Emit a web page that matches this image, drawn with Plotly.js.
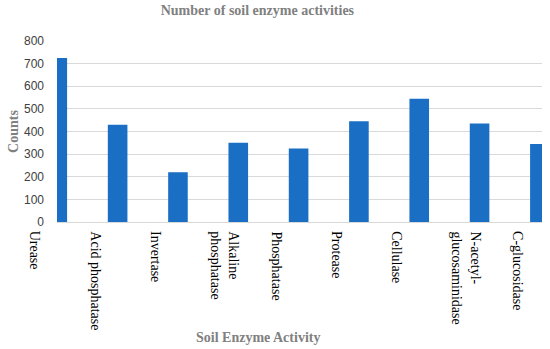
<!DOCTYPE html>
<html>
<head>
<meta charset="utf-8">
<script src="https://cdn.plot.ly/plotly-3.0.1.min.js"></script>
<style>html,body{margin:0;padding:0;background:#fff;}#chart{width:550px;height:349px;}</style>
</head>
<body>
<div id="chart"></div>
<script>
var categories = ["Urease", "Acid phosphatase", "Invertase", "Alkaline<br>phosphatase", "Phosphatase", "Protease", "Cellulase", "N-acetyl-<br>glucosaminidase", "C-glucosidase"];
var counts = [725, 430, 220, 350, 325, 445, 545, 435, 345];
var yTicks = [0, 100, 200, 300, 400, 500, 600, 700, 800];

var idx = categories.map(function (c, i) { return i; });
var xRange = [-0.005, 8.035];
// helper axis spanning the full label strip (starts 37px left of the plot area)
var marginL = 20, plotL = 57, plotR = 542;
var unitPx = (plotR - plotL) / (xRange[1] - xRange[0]);
var x2Range = [xRange[0] - (plotL - marginL) / unitPx, xRange[1]];
var xDomainStart = (plotL - marginL) / (plotR - marginL);

var annotations = categories.map(function (c, i) {
  return {
    x: i - 0.53, xref: 'x2', y: 0, yref: 'paper',
    text: c, showarrow: false, textangle: 90,
    xanchor: 'left', yanchor: 'top', align: 'left', yshift: -7,
    font: {family: 'Liberation Serif, Times New Roman, serif', size: 14, color: '#000'}
  };
});

var trace = {
  type: 'bar', x: idx, y: counts, width: 0.325,
  marker: {color: '#1a6fc4'}, hoverinfo: 'none', xaxis: 'x', yaxis: 'y'
};
var helper = {type: 'scatter', mode: 'markers', x: [], y: [], xaxis: 'x2', yaxis: 'y2', hoverinfo: 'none'};

var hiddenAxis = {showticklabels: false, ticks: '', showgrid: false, zeroline: false, showline: false, fixedrange: true};

var layout = {
  width: 550, height: 349,
  margin: {l: marginL, r: 550 - plotR, t: 41, b: 127},
  paper_bgcolor: '#fff', plot_bgcolor: 'rgba(0,0,0,0)',
  showlegend: false,
  title: {
    text: '<b>Number of soil enzyme activities</b>',
    font: {family: 'Liberation Serif, Times New Roman, serif', size: 14, color: '#808080'},
    x: 0.468, xref: 'container', xanchor: 'center', y: 0.972, yref: 'container', yanchor: 'middle'
  },
  xaxis: {
    domain: [xDomainStart, 1], anchor: 'y',
    range: xRange, showticklabels: false, ticks: '', showgrid: false,
    zeroline: false, showline: true, linecolor: '#d9d9d9', linewidth: 1, fixedrange: true
  },
  yaxis: {
    domain: [0, 1], anchor: 'x',
    range: [0, 800], tickvals: yTicks, ticktext: yTicks.map(String),
    showgrid: true, gridcolor: '#d9d9d9', gridwidth: 1, zeroline: false,
    ticks: '', ticklabelstandoff: 12, fixedrange: true,
    tickfont: {family: 'Liberation Sans, Arial, sans-serif', size: 12, color: '#404040'},
    title: {
      text: '<b>Counts</b>', standoff: 2,
      font: {family: 'Liberation Serif, Times New Roman, serif', size: 14, color: '#808080'}
    }
  },
  xaxis2: Object.assign({domain: [0, 1], anchor: 'y2', range: x2Range}, hiddenAxis),
  yaxis2: Object.assign({domain: [0, 1], anchor: 'x2', range: [0, 1]}, hiddenAxis),
  annotations: annotations.concat([{
    x: (258 - marginL) / (plotR - marginL), xref: 'paper', y: -(337 - 222) / (222 - 41), yref: 'paper', yanchor: 'middle',
    text: '<b>Soil Enzyme Activity</b>', showarrow: false,
    font: {family: 'Liberation Serif, Times New Roman, serif', size: 14, color: '#808080'}
  }])
};

Plotly.newPlot('chart', [trace, helper], layout, {staticPlot: true, displayModeBar: false});
</script>
</body>
</html>
